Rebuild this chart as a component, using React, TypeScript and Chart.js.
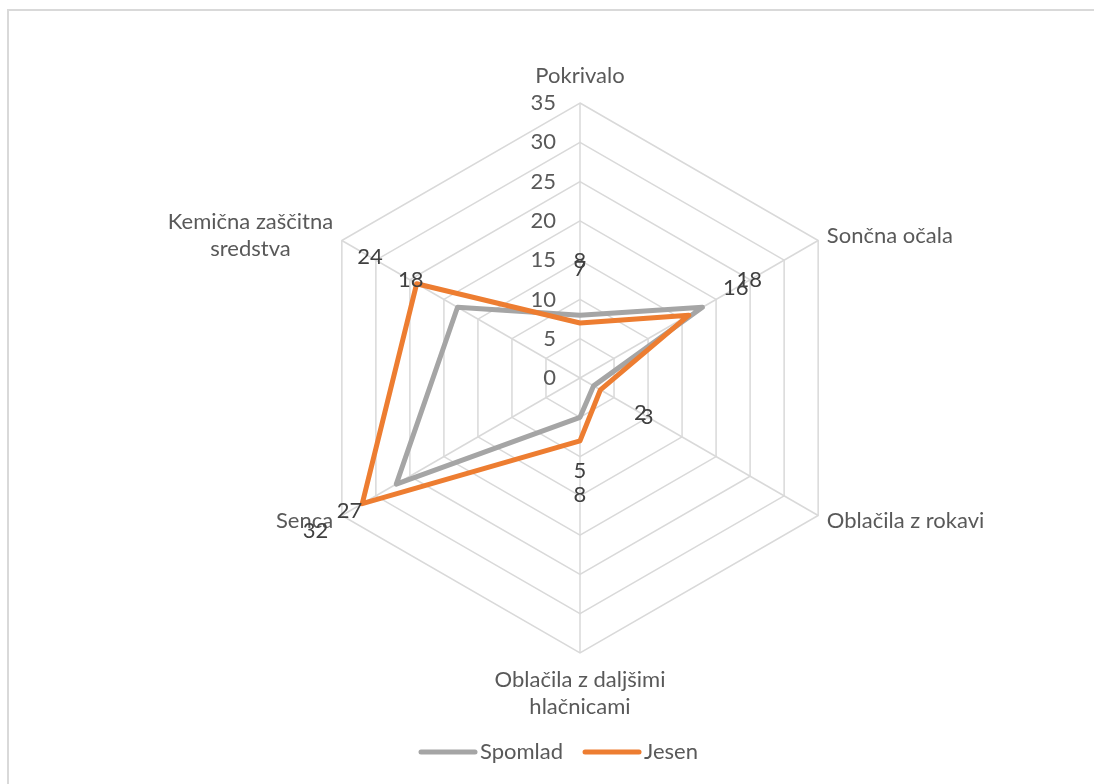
import React, { useEffect, useRef } from "react";
import { Chart, registerables } from "chart.js";

Chart.register(...registerables);

const categories: string[][] = [
  ["Pokrivalo"],
  ["Sončna očala"],
  ["Oblačila z rokavi"],
  ["Oblačila z daljšimi", "hlačnicami"],
  ["Senca"],
  ["Kemična zaščitna", "sredstva"],
];
const spomlad = [8, 18, 2, 5, 27, 18];
const jesen = [7, 16, 3, 8, 32, 24];
const tickValues = [0, 5, 10, 15, 20, 25, 30, 35];
const seriesNames = ["Spomlad", "Jesen"];
const seriesColors = ["#a5a5a5", "#ed7d31"];

const FONT = "Lato, 'Open Sans', sans-serif";
const FONT_SIZE = 22;

const excelRadarPlugin = {
  id: "excelRadar",
  afterDatasetsDraw(chart: any) {
    const ctx: CanvasRenderingContext2D = chart.ctx;
    const scale = chart.scales.r;
    const R = scale.drawingArea;
    ctx.save();
    ctx.font = `${FONT_SIZE}px ${FONT}`;

    // tick labels
    ctx.fillStyle = "#595959";
    ctx.textAlign = "right";
    ctx.textBaseline = "middle";
    tickValues.forEach((v) => {
      const d = scale.getDistanceFromCenterForValue(v);
      ctx.fillText(String(v), scale.xCenter - 24, scale.yCenter - d);
    });

    // category labels
    const n = categories.length;
    const lh = 27;
    categories.forEach((lines, i) => {
      const angle = (i * 360) / n;
      if (angle === 0) {
        const p = scale.getPointPosition(i, R + 27);
        ctx.textAlign = "center";
        lines.forEach((t, k) => ctx.fillText(t, p.x, p.y - (lines.length - 1 - k) * lh));
      } else if (angle === 180) {
        const p = scale.getPointPosition(i, R + 27);
        ctx.textAlign = "center";
        lines.forEach((t, k) => ctx.fillText(t, p.x, p.y + k * lh));
      } else {
        const p = scale.getPointPosition(i, R + 10);
        const widths = lines.map((t) => ctx.measureText(t).width);
        const maxW = Math.max(...widths);
        const left = angle < 180 ? p.x : p.x - maxW;
        ctx.textAlign = "center";
        const y0 = p.y - ((lines.length - 1) * lh) / 2;
        lines.forEach((t, k) => ctx.fillText(t, left + maxW / 2, y0 + k * lh));
      }
    });

    // data labels
    ctx.fillStyle = "#404040";
    ctx.textAlign = "center";
    chart.data.datasets.forEach((ds: any) => {
      ds.data.forEach((v: number, i: number) => {
        const p = scale.getPointPosition(i, scale.getDistanceFromCenterForValue(v) + 54);
        ctx.fillText(String(v), p.x, p.y);
      });
    });

    // legend
    let x = 421;
    const y = 752;
    ctx.textAlign = "left";
    ctx.fillStyle = "#595959";
    seriesNames.forEach((name, i) => {
      ctx.strokeStyle = seriesColors[i];
      ctx.lineWidth = 5;
      ctx.lineCap = "round";
      ctx.beginPath();
      ctx.moveTo(x, y);
      ctx.lineTo(x + 54, y);
      ctx.stroke();
      ctx.fillText(name, x + 59, y);
      x += 59 + ctx.measureText(name).width + 22;
    });
    ctx.restore();
  },
};

export default function App() {
  const ref = useRef<HTMLCanvasElement | null>(null);
  useEffect(() => {
    if (!ref.current) return;
    const chart = new Chart(ref.current, {
      type: "radar",
      data: {
        labels: categories.map((c) => c.join(" ")),
        datasets: [
          {
            label: seriesNames[0],
            data: spomlad,
            borderColor: seriesColors[0],
            backgroundColor: "transparent",
            borderWidth: 5,
            pointRadius: 0,
            fill: false,
            borderJoinStyle: "round",
            order: 1,
          },
          {
            label: seriesNames[1],
            data: jesen,
            borderColor: seriesColors[1],
            backgroundColor: "transparent",
            borderWidth: 5,
            pointRadius: 0,
            fill: false,
            borderJoinStyle: "round",
            order: 0,
          },
        ],
      },
      options: {
        responsive: false,
        animation: false,
        devicePixelRatio: 1,
        layout: { padding: { left: 305, top: 103, right: 239, bottom: 131 } },
        plugins: { legend: { display: false }, tooltip: { enabled: false } },
        scales: {
          r: {
            min: 0,
            max: 35,
            ticks: { display: false, stepSize: 5 },
            pointLabels: { display: false },
            grid: { color: "#d9d9d9", lineWidth: 1.5 },
            angleLines: { color: "#d9d9d9", lineWidth: 1.5 },
          },
        },
      },
      plugins: [excelRadarPlugin],
    } as any);
    return () => chart.destroy();
  }, []);

  return (
    <div
      style={{
        position: "absolute",
        left: 0,
        top: 0,
        width: 1094,
        height: 784,
        overflow: "hidden",
        background: "#ffffff",
      }}
    >
      <div
        style={{
          position: "absolute",
          left: 7,
          top: 9,
          width: 1110,
          height: 800,
          border: "2px solid #d9d9d9",
          boxSizing: "border-box",
        }}
      />
      <canvas
        ref={ref}
        width={1094}
        height={784}
        style={{ position: "absolute", left: 0, top: 0, width: 1094, height: 784 }}
      />
    </div>
  );
}
